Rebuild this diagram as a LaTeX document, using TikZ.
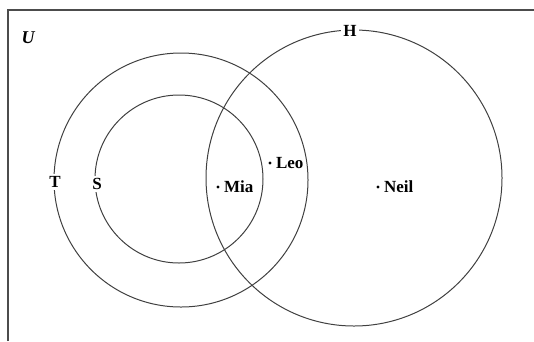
\documentclass[tikz,border=0pt]{standalone}
\usepackage{fontspec}
\setmainfont{Liberation Serif}
\usetikzlibrary{positioning}

\begin{document}
\begin{tikzpicture}[
  x=1pt, y=-1pt,
  font=\fontsize{17}{19}\selectfont\bfseries,
  set/.style={draw=black!75, line width=1pt},
  frame/.style={draw=black!70, line width=1.2pt},
  setlabel/.style={fill=white, inner sep=2pt},
  elem/.style={circle, fill=black, inner sep=0pt, minimum size=3.2pt},
  elemlabel/.style={inner sep=1pt},
]
\useasboundingbox (0,0) rectangle (534,341);

% ---------- universe ----------
\coordinate (ul) at (8,10);
\draw[frame] (8,341) -- (ul) -- (534,10);
\node[font=\fontsize{18}{20}\selectfont\bfseries\itshape] (U) at (28,38) {U};

% ---------- sets ----------
\draw[set] (181,180) circle (127);
\draw[set] (179,179) circle (84);
\draw[set] (354,178) circle (148);

\node[setlabel] (T) at (55,182) {T};
\node[setlabel] (S) at (97,184) {S};
\node[setlabel] (H) at (350,31) {H};

% ---------- elements ----------
\node[elem] (leo) at (270,163) {};
\node[elemlabel, right=3pt of leo] (leoL) {Leo};
\node[elem] (mia) at (218,187) {};
\node[elemlabel, right=3pt of mia] (miaL) {Mia};
\node[elem] (neil) at (378,187) {};
\node[elemlabel, right=3pt of neil] (neilL) {Neil};

\end{tikzpicture}
\end{document}
